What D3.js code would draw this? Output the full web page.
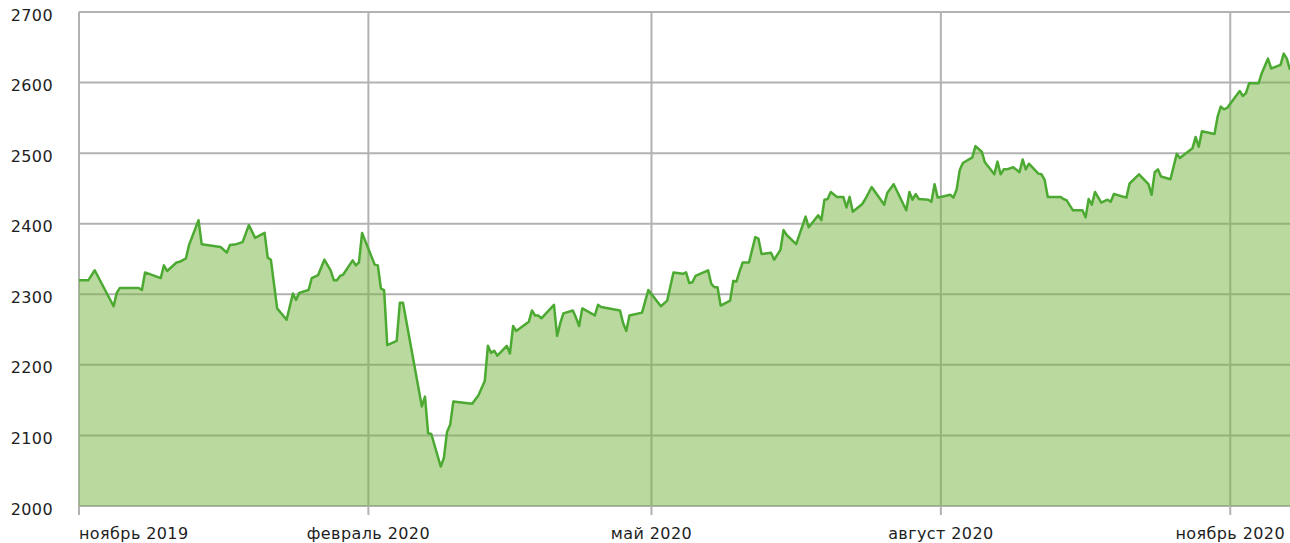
<!DOCTYPE html>
<html>

<head>
    <meta charset="utf-8">
    <script src="https://cdnjs.cloudflare.com/ajax/libs/d3/7.8.5/d3.min.js"></script>
    <style>
        body {
            margin: 0;
            background: #fff;
        }

        .lbl {
            font-family: 'DejaVu Sans', sans-serif;
            font-size: 16px;
            letter-spacing: 0.4px;
            fill: #1e1e1e;
        }
    </style>
</head>

<body>
    <script>
        // index values, one per trading point
        const dates = [
            "2019-11-01", "2019-11-04", "2019-11-06", "2019-11-12", "2019-11-13", "2019-11-14", "2019-11-20", "2019-11-21", "2019-11-22", "2019-11-27", "2019-11-28", "2019-11-29",
            "2019-12-02", "2019-12-03", "2019-12-05", "2019-12-06", "2019-12-09", "2019-12-10", "2019-12-16", "2019-12-18", "2019-12-19", "2019-12-21", "2019-12-23", "2019-12-25", "2019-12-27", "2019-12-30", "2019-12-31",
            "2020-01-01", "2020-01-03", "2020-01-06", "2020-01-08", "2020-01-09", "2020-01-10", "2020-01-13", "2020-01-14", "2020-01-16", "2020-01-18", "2020-01-20", "2020-01-21", "2020-01-22", "2020-01-23", "2020-01-24", "2020-01-27", "2020-01-28", "2020-01-29", "2020-01-30",
            "2020-02-03", "2020-02-04", "2020-02-05", "2020-02-06", "2020-02-07", "2020-02-10", "2020-02-11", "2020-02-12", "2020-02-18", "2020-02-19", "2020-02-20", "2020-02-21", "2020-02-24", "2020-02-25", "2020-02-26", "2020-02-27", "2020-02-28",
            "2020-03-05", "2020-03-07", "2020-03-09", "2020-03-10", "2020-03-11", "2020-03-12", "2020-03-13", "2020-03-16", "2020-03-17", "2020-03-18", "2020-03-19", "2020-03-23", "2020-03-24", "2020-03-25", "2020-03-26", "2020-03-27", "2020-03-31",
            "2020-04-01", "2020-04-02", "2020-04-03", "2020-04-06", "2020-04-07", "2020-04-08", "2020-04-09", "2020-04-13", "2020-04-14", "2020-04-15", "2020-04-21", "2020-04-22", "2020-04-23", "2020-04-24", "2020-04-28", "2020-04-29", "2020-04-30",
            "2020-05-04", "2020-05-06", "2020-05-07", "2020-05-08", "2020-05-11", "2020-05-12", "2020-05-13", "2020-05-14", "2020-05-15", "2020-05-19", "2020-05-20", "2020-05-21", "2020-05-22", "2020-05-23", "2020-05-26", "2020-05-27", "2020-05-28", "2020-05-29", "2020-05-30",
            "2020-06-01", "2020-06-03", "2020-06-04", "2020-06-05", "2020-06-08", "2020-06-09", "2020-06-11", "2020-06-12", "2020-06-13", "2020-06-16", "2020-06-19", "2020-06-20", "2020-06-23", "2020-06-24", "2020-06-25", "2020-06-26", "2020-06-27", "2020-06-29",
            "2020-07-01", "2020-07-02", "2020-07-03", "2020-07-04", "2020-07-07", "2020-07-08", "2020-07-10", "2020-07-14", "2020-07-15", "2020-07-17", "2020-07-21", "2020-07-22", "2020-07-23", "2020-07-24", "2020-07-25", "2020-07-28", "2020-07-29", "2020-07-30", "2020-07-31",
            "2020-08-02", "2020-08-04", "2020-08-05", "2020-08-06", "2020-08-07", "2020-08-08", "2020-08-11", "2020-08-12", "2020-08-14", "2020-08-15", "2020-08-18", "2020-08-19", "2020-08-20", "2020-08-21", "2020-08-22", "2020-08-24", "2020-08-26", "2020-08-27", "2020-08-28", "2020-08-29",
            "2020-09-01", "2020-09-02", "2020-09-03", "2020-09-04", "2020-09-08", "2020-09-09", "2020-09-10", "2020-09-12", "2020-09-15", "2020-09-16", "2020-09-17", "2020-09-18", "2020-09-19", "2020-09-21", "2020-09-23", "2020-09-24", "2020-09-25", "2020-09-29", "2020-09-30",
            "2020-10-03", "2020-10-06", "2020-10-07", "2020-10-08", "2020-10-09", "2020-10-10", "2020-10-13", "2020-10-15", "2020-10-16", "2020-10-20", "2020-10-21", "2020-10-22", "2020-10-23", "2020-10-27", "2020-10-28", "2020-10-29", "2020-10-30", "2020-10-31",
            "2020-11-04", "2020-11-05", "2020-11-06", "2020-11-07", "2020-11-10", "2020-11-11", "2020-11-13", "2020-11-14", "2020-11-17", "2020-11-18", "2020-11-19", "2020-11-20"
        ]
        const values = [
            2320, 2320, 2334, 2283, 2302, 2309, 2309, 2306, 2331, 2323, 2341, 2333,
            2345, 2346, 2351, 2370, 2405, 2371, 2367, 2359, 2370, 2371, 2374, 2398, 2380, 2387, 2352,
            2349, 2280, 2264, 2301, 2292, 2302, 2306, 2323, 2327, 2349, 2334, 2320, 2320, 2326, 2328, 2348, 2341, 2345, 2387,
            2342, 2341, 2308, 2306, 2228, 2234, 2288, 2288, 2141, 2155, 2103, 2102, 2056, 2068, 2105, 2115, 2148,
            2145, 2157, 2177, 2227, 2217, 2220, 2213, 2227, 2216, 2255, 2248, 2261, 2277, 2270, 2270, 2266, 2285,
            2241, 2259, 2273, 2277, 2267, 2255, 2280, 2270, 2285, 2282, 2277, 2259, 2248, 2270, 2274, 2290, 2306,
            2283, 2291, 2311, 2331, 2329, 2331, 2316, 2317, 2326, 2334, 2315, 2310, 2310, 2284, 2291, 2319, 2318, 2332, 2345,
            2345, 2381, 2379, 2357, 2359, 2349, 2363, 2391, 2384, 2371, 2410, 2395, 2412, 2405, 2434, 2435, 2445, 2438,
            2438, 2423, 2438, 2417, 2428, 2435, 2452, 2427, 2444, 2456, 2419, 2445, 2434, 2442, 2435, 2434, 2431, 2456, 2437,
            2439, 2441, 2437, 2448, 2476, 2486, 2494, 2510, 2502, 2487, 2470, 2488, 2470, 2477, 2477, 2480, 2473, 2491, 2477, 2485,
            2471, 2470, 2462, 2438, 2438, 2435, 2433, 2419, 2419, 2409, 2435, 2427, 2445, 2430, 2434, 2431, 2442, 2437, 2457,
            2470, 2456, 2441, 2473, 2477, 2467, 2463, 2499, 2493, 2507, 2523, 2509, 2531, 2527, 2552, 2566, 2562, 2564,
            2588, 2581, 2585, 2599, 2599, 2613, 2634, 2620, 2625, 2641, 2634, 2618
        ]

        const yTicks = [2000, 2100, 2200, 2300, 2400, 2500, 2600, 2700]
        const xTickDates = ["2019-11-01", "2020-02-01", "2020-05-01", "2020-08-01", "2020-11-01"]
        const xTickLabels = ["ноябрь 2019", "февраль 2020", "май 2020", "август 2020", "ноябрь 2020"]

        const W = 1290, H = 543
        const padL = 79, padR = 1290, padT = 12, padB = 506

        const parse = d3.timeParse("%Y-%m-%d")
        const data = dates.map((d, i) => ({ date: parse(d), value: values[i] }))

        const x = d3.scaleTime()
            .domain(d3.extent(data, d => d.date))
            .range([padL, padR])
        const y = d3.scaleLinear()
            .domain([2000, 2700])
            .range([padB, padT])

        const svg = d3.select("body").append("svg")
            .attr("width", W)
            .attr("height", H)
            .style("display", "block")

        // horizontal grid
        svg.append("g").selectAll("line")
            .data(yTicks)
            .join("line")
            .attr("x1", padL)
            .attr("x2", padR)
            .attr("y1", d => y(d))
            .attr("y2", d => y(d))
            .attr("stroke", "#b2b2b2")
            .attr("stroke-width", 2)

        // vertical grid + ticks below the axis
        svg.append("g").selectAll("line")
            .data(xTickDates.map(parse))
            .join("line")
            .attr("x1", d => x(d))
            .attr("x2", d => x(d))
            .attr("y1", padT)
            .attr("y2", padB + 9)
            .attr("stroke", "#b2b2b2")
            .attr("stroke-width", 2)

        const area = d3.area()
            .x(d => x(d.date))
            .y0(y(2000))
            .y1(d => y(d.value))
        const line = d3.line()
            .x(d => x(d.date))
            .y(d => y(d.value))

        svg.append("path")
            .datum(data)
            .attr("d", area)
            .attr("fill", "#74b33e")
            .attr("fill-opacity", 0.5)

        svg.append("path")
            .datum(data)
            .attr("d", line)
            .attr("fill", "none")
            .attr("stroke", "#4caa32")
            .attr("stroke-width", 2.5)
            .attr("stroke-linejoin", "round")

        // y labels
        svg.append("g").selectAll("text")
            .data(yTicks)
            .join("text")
            .attr("class", "lbl")
            .attr("x", 53)
            .attr("y", d => y(d) + 4)
            .attr("text-anchor", "end")
            .attr("dominant-baseline", "middle")
            .text(d => d)

        // x labels
        svg.append("g").selectAll("text")
            .data(xTickDates)
            .join("text")
            .attr("class", "lbl")
            .attr("x", d => x(parse(d)))
            .attr("y", 539)
            .attr("text-anchor", (d, i) => i == 0 ? "start" : "middle")
            .text((d, i) => xTickLabels[i])
    </script>
</body>

</html>
